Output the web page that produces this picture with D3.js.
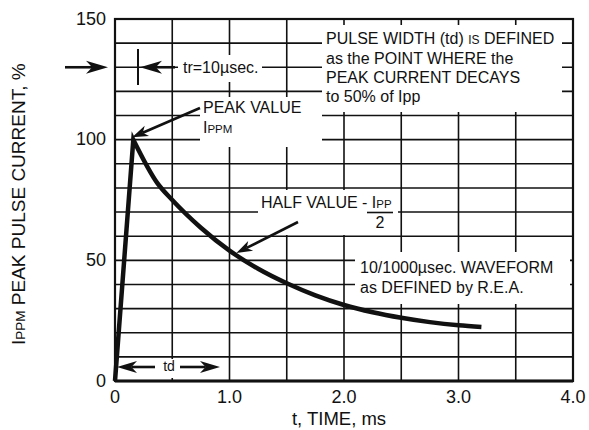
<!DOCTYPE html>
<html>
<head>
<meta charset="utf-8">
<script src="https://cdn.jsdelivr.net/npm/d3@7"></script>
<style>
  body { margin: 0; background: #fff; }
  svg { display: block; font-family: "Liberation Sans", Arial, sans-serif; }
</style>
</head>
<body>
<div id="chart"></div>
<script>
// =============================================================================
// Data
// =============================================================================
const RISE_T = [0, 0.16];
const RISE_V = [0, 100];
const DECAY_T = [0.16, 0.37, 0.5, 0.75, 1.0, 1.25, 1.5, 1.75, 2.0, 2.25, 2.5, 2.75, 3.0, 3.2];
const DECAY_V = [100, 82, 75, 63.5, 54, 46.5, 40.5, 35.5, 31.5, 28.5, 26.2, 24.4, 23.1, 22.4];

const X_GRID = [0.5, 1.0, 1.5, 2.0, 2.5, 3.0, 3.5];
const Y_GRID = [10, 20, 30, 40, 50, 60, 70, 80, 90, 100, 110, 120, 130, 140];
const X_TICKS = [0, 1, 2, 3, 4];
const X_TICK_LABELS = ['0', '1.0', '2.0', '3.0', '4.0'];
const Y_TICKS = [0, 50, 100, 150];

const PULSE_LINES = ['as the POINT WHERE the', 'PEAK CURRENT DECAYS', 'to 50% of Ipp'];
const REA_LINES = ['10/1000\u00b5sec. WAVEFORM', 'as DEFINED by R.E.A.'];

// =============================================================================
// Visual Configuration
// =============================================================================
const W = 589, H = 430;
const margin = { top: 19, right: 16, bottom: 49, left: 115 };
const width = W - margin.left - margin.right;
const height = H - margin.top - margin.bottom;
const INK = '#111';

const svg = d3.select('#chart')
    .append('svg')
    .attr('width', W)
    .attr('height', H);

const g = svg.append('g')
    .attr('transform', `translate(${margin.left},${margin.top})`);

const x = d3.scaleLinear().domain([0, 4]).range([0, width]);
const y = d3.scaleLinear().domain([0, 150]).range([height, 0]);

// Grid
g.append('g')
    .selectAll('line')
    .data(X_GRID)
    .enter()
    .append('line')
    .attr('x1', d => x(d)).attr('x2', d => x(d))
    .attr('y1', 0).attr('y2', height)
    .attr('stroke', INK).attr('stroke-width', 1.6);

g.append('g')
    .selectAll('line')
    .data(Y_GRID)
    .enter()
    .append('line')
    .attr('x1', 0).attr('x2', width)
    .attr('y1', d => y(d)).attr('y2', d => y(d))
    .attr('stroke', INK).attr('stroke-width', 1.6);

// Frame
g.append('rect')
    .attr('width', width).attr('height', height)
    .attr('fill', 'none').attr('stroke', INK).attr('stroke-width', 2.2);
g.append('line')
    .attr('x1', 0).attr('x2', width)
    .attr('y1', height).attr('y2', height)
    .attr('stroke', INK).attr('stroke-width', 3);

// White label boxes that knock out the grid (plot-relative px)
const boxes = [
    [63, 36, 84, 27],    // tr=10usec.
    [207, 6, 240, 87],   // pulse width note
    [85, 78, 122, 50],   // peak value
    [143, 171, 140, 45], // half value
    [240, 233, 215, 52], // 10/1000 waveform
    [2, 340, 111, 19]    // td
];
g.append('g')
    .selectAll('rect')
    .data(boxes)
    .enter()
    .append('rect')
    .attr('x', d => d[0]).attr('y', d => d[1])
    .attr('width', d => d[2]).attr('height', d => d[3])
    .attr('fill', '#fff');

// Waveform: straight rise, then smooth decay joined into one path
const riseData = RISE_T.map((t, i) => [x(t), y(RISE_V[i])]);
const decayData = DECAY_T.map((t, i) => [x(t), y(DECAY_V[i])]);
const risePath = d3.line()(riseData);
const decayPath = d3.line().curve(d3.curveMonotoneX)(decayData);

g.append('path')
    .attr('d', risePath + decayPath.replace(/^M/, 'L'))
    .attr('fill', 'none')
    .attr('stroke', INK)
    .attr('stroke-width', 4.5)
    .attr('stroke-linejoin', 'miter');

// Arrow helper: shaft from (x1,y1) to tip (x2,y2) with notched head
function arrow(sel, x1, y1, x2, y2, len = 17, half = 6) {
    const a = Math.atan2(y2 - y1, x2 - x1);
    const c = Math.cos(a), s = Math.sin(a);
    const bx = x2 - len * c, by = y2 - len * s;
    const nx = x2 - len * 0.72 * c, ny = y2 - len * 0.72 * s;
    sel.append('line')
        .attr('x1', x1).attr('y1', y1).attr('x2', nx).attr('y2', ny)
        .attr('stroke', INK).attr('stroke-width', 2.6);
    sel.append('path')
        .attr('d', `M${x2},${y2}L${bx - half * s},${by + half * c}L${nx},${ny}L${bx + half * s},${by - half * c}Z`)
        .attr('fill', INK);
}

const ann = g.append('g');

// tr = 10usec markers
arrow(ann, -50, y(130), -7, y(130), 22, 6.5);
ann.append('line')
    .attr('x1', 23).attr('x2', 23).attr('y1', 30).attr('y2', 66)
    .attr('stroke', INK).attr('stroke-width', 2);
arrow(ann, 60, y(130), 25, y(130), 22, 6.5);

// peak + half value arrows point at the waveform
arrow(ann, 85, 89, x(0.15), y(101), 16, 5.5);
arrow(ann, 183, 203, x(1.06), y(53), 16, 5.5);

// td arrows along the bottom
arrow(ann, 40, 348, 2, 348, 20, 6);
arrow(ann, 65, 348, 105, 348, 20, 6);

// Annotation texts
const txt = (px, py, size = 16) => ann.append('text')
    .attr('x', px).attr('y', py)
    .attr('font-size', size)
    .attr('fill', INK);

txt(68, 54).text('tr=10\u00b5sec.');

const p1 = txt(211, 25);
p1.append('tspan').text('PULSE WIDTH (td) ');
p1.append('tspan').attr('font-size', 12).text('IS');
p1.append('tspan').text(' DEFINED');
PULSE_LINES.forEach((line, i) => txt(211, 44.5 + i * 19.3).text(line));

txt(88, 94).text('PEAK VALUE');
const pk = txt(88, 114);
pk.append('tspan').text('I');
pk.append('tspan').attr('font-size', 11.5).text('PPM');

const hv = txt(146, 189);
hv.append('tspan').text('HALF VALUE - I');
hv.append('tspan').attr('font-size', 11.5).text('PP');
ann.append('line')
    .attr('x1', 252).attr('x2', 278).attr('y1', 193.5).attr('y2', 193.5)
    .attr('stroke', INK).attr('stroke-width', 1.6);
txt(265, 209).attr('text-anchor', 'middle').text('2');

REA_LINES.forEach((line, i) => txt(245, 254 + i * 19.5).text(line));

txt(54, 352, 14).attr('text-anchor', 'middle').text('td');

// Tick labels
g.append('g')
    .selectAll('text')
    .data(X_TICKS)
    .enter()
    .append('text')
    .attr('x', d => x(d))
    .attr('y', height + 22)
    .attr('text-anchor', 'middle')
    .attr('font-size', 18)
    .attr('fill', INK)
    .text((d, i) => X_TICK_LABELS[i]);

g.append('g')
    .selectAll('text')
    .data(Y_TICKS)
    .enter()
    .append('text')
    .attr('x', -9)
    .attr('y', d => y(d) + 5.5)
    .attr('text-anchor', 'end')
    .attr('font-size', 18)
    .attr('fill', INK)
    .text(d => d);

// Axis titles
svg.append('text')
    .attr('x', margin.left + 224)
    .attr('y', 425)
    .attr('text-anchor', 'middle')
    .attr('font-size', 18.5)
    .attr('fill', INK)
    .text('t, TIME, ms');

const yl = svg.append('text')
    .attr('transform', 'translate(25,345) rotate(-90)')
    .attr('font-size', 19)
    .attr('fill', INK);
yl.append('tspan').text('I');
yl.append('tspan').attr('font-size', 13.5).text('PPM');
yl.append('tspan').text(' PEAK PULSE CURRENT, %');
</script>
</body>
</html>
